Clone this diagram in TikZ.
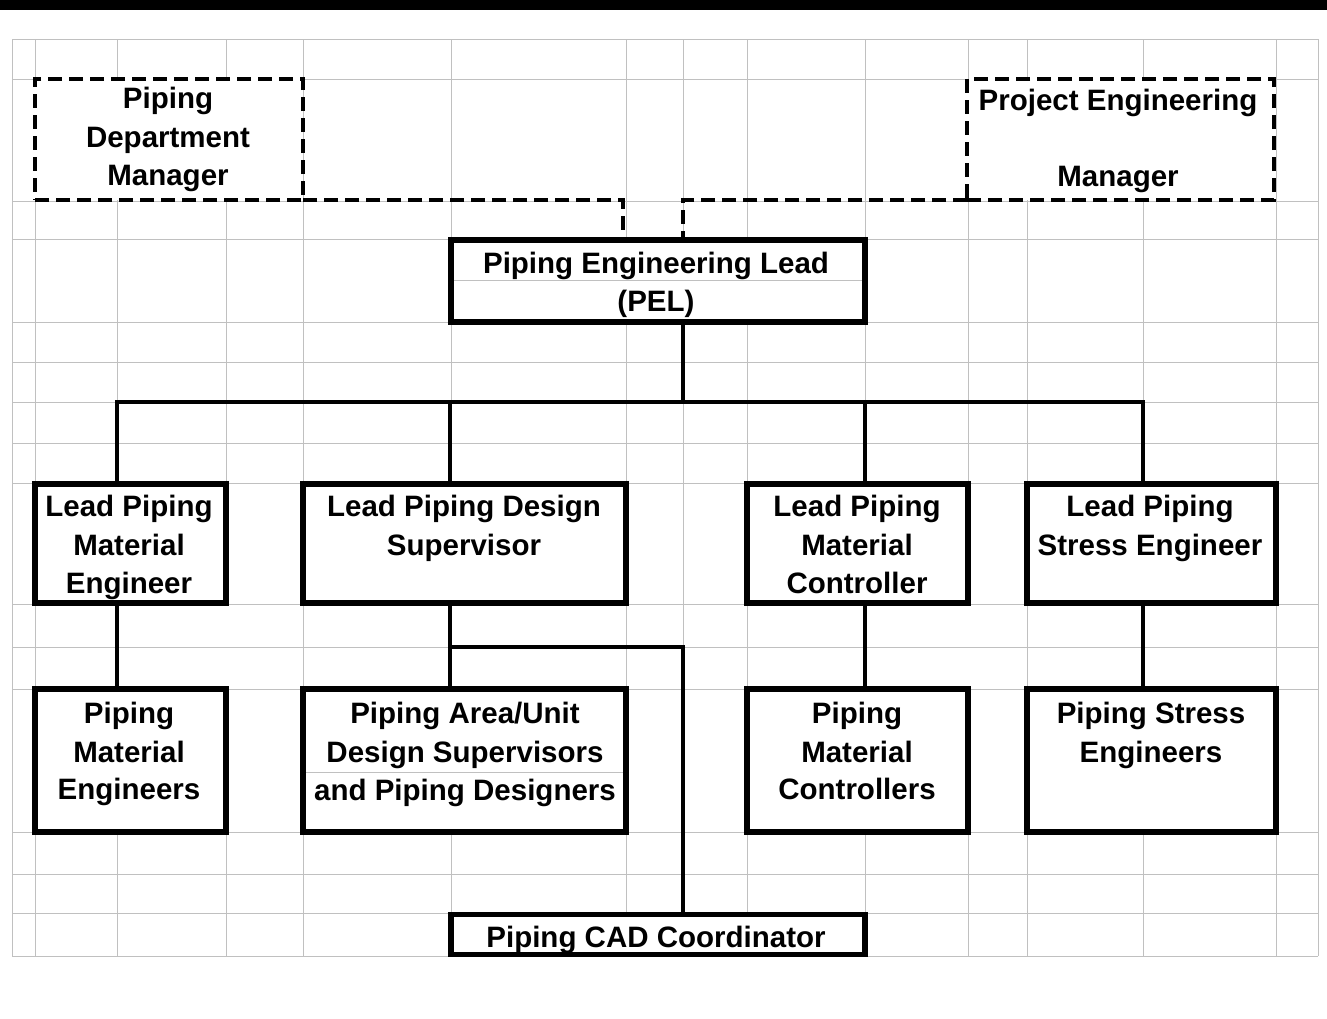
\documentclass[tikz,border=0pt]{standalone}
\usepackage{fontspec}
\setmainfont{Liberation Sans}
\definecolor{gridc}{RGB}{192,192,192}
\tikzset{
  gridline/.style={draw=gridc, line width=1pt},
  orgbox/.style={rectangle, draw=black, fill=white, line width=5.5pt, inner sep=0pt, outer sep=0pt},
  mgrbox/.style={rectangle, draw=black, fill=white, line width=3.5pt, dash pattern=on 14pt off 7pt, inner sep=0pt, outer sep=0pt},
  conn/.style={draw=black, line width=4.5pt},
  dconn/.style={draw=black, line width=3.5pt, dash pattern=on 14pt off 7pt},
  txt/.style={inner sep=0pt, anchor=base, text=black, font=\fontsize{29.5}{36}\selectfont\bfseries},
}
\begin{document}
\begin{tikzpicture}[x=1pt,y=-1pt]
\useasboundingbox (0,0) rectangle (1327,1018);
\fill[white] (0,0) rectangle (1327,1018);
\fill[black] (0,0) rectangle (1327,10);
% spreadsheet grid
\foreach \gx in {12,35,117,226,303,451,626,683,747,865,968,1027,1143,1276,1318}
  \draw[gridline] (\gx,39) -- (\gx,956);
\fill[white] (225,606) rectangle (227.5,687);
\fill[white] (967,606) rectangle (969.5,687);
\foreach \gy in {39,79,201,239,322,362,402,443,483,604,647,689,832,874,913,956}
  \draw[gridline] (12,\gy) -- (1318,\gy);
% coordinates for connector columns and rows
\coordinate (xa) at (117,0);
\coordinate (xb) at (450,0);
\coordinate (xc) at (683,0);
\coordinate (xd) at (865,0);
\coordinate (xe) at (1143,0);
\coordinate (xf) at (623,0);
\coordinate (bus) at (0,402);
\coordinate (jrow) at (0,647);
% manager boxes (dashed)
\node[mgrbox, minimum width=268pt, minimum height=121pt] (pdm) at (169,139.5) {};
\node[mgrbox, minimum width=307pt, minimum height=121pt] (pem) at (1120.5,139.5) {};
% PEL
\node[orgbox, minimum width=414pt, minimum height=82pt] (pel) at (658,281) {};
% leads
\node[orgbox, minimum width=191pt, minimum height=119pt] (lpme) at (130.5,543.5) {};
\node[orgbox, minimum width=323pt, minimum height=119pt] (lpds) at (464.5,543.5) {};
\node[orgbox, minimum width=221pt, minimum height=119pt] (lpmc) at (857.5,543.5) {};
\node[orgbox, minimum width=249pt, minimum height=119pt] (lpse) at (1151.5,543.5) {};
% teams
\node[orgbox, minimum width=191pt, minimum height=143pt] (pme) at (130.5,760.5) {};
\node[orgbox, minimum width=323pt, minimum height=143pt] (pad) at (464.5,760.5) {};
\node[orgbox, minimum width=221pt, minimum height=143pt] (pmc) at (857.5,760.5) {};
\node[orgbox, minimum width=249pt, minimum height=143pt] (pse) at (1151.5,760.5) {};
% CAD
\node[orgbox, minimum width=414pt, minimum height=40pt] (cad) at (658,934.5) {};
% grid lines that show inside two boxes
\draw[gridline] (454,280) -- (862,280);
\draw[gridline] (306,772) -- (623,772);
% dashed reporting lines
\draw[dconn] (pdm.south east) -| (pel.north -| xf);
\draw[dconn] (pem.south west) -| (pel.north -| xc);
% solid connectors
\draw[conn] (pel.south -| xc) -- (xc |- bus);
\draw[conn] (xa |- lpme.north) |- (xe |- bus) -- (xe |- lpse.north);
\draw[conn] (xb |- bus) -- (xb |- lpds.north);
\draw[conn] (xd |- bus) -- (xd |- lpmc.north);
\draw[conn] (xa |- lpme.south) -- (xa |- pme.north);
\draw[conn] (xb |- lpds.south) -- (xb |- pad.north);
\draw[conn] (xd |- lpmc.south) -- (xd |- pmc.north);
\draw[conn] (xe |- lpse.south) -- (xe |- pse.north);
\draw[conn] (xb |- jrow) -| (cad.north -| xc);
% texts
\node[txt] (t1) at (168,108) {Piping};
\node[txt] (t2) at (168,147) {Department};
\node[txt] (t3) at (168,185) {Manager};
\node[txt] (t4) at (1118,110) {Project Engineering};
\node[txt] (t5) at (1118,186) {Manager};
\node[txt] (t6) at (656,273) {Piping Engineering Lead};
\node[txt] (t7) at (656,311) {(PEL)};
\node[txt] (t8) at (129,516) {Lead Piping};
\node[txt] (t9) at (129,555) {Material};
\node[txt] (t10) at (129,593) {Engineer};
\node[txt] (t11) at (464,516) {Lead Piping Design};
\node[txt] (t12) at (464,555) {Supervisor};
\node[txt] (t13) at (857,516) {Lead Piping};
\node[txt] (t14) at (857,555) {Material};
\node[txt] (t15) at (857,593) {Controller};
\node[txt] (t16) at (1150,516) {Lead Piping};
\node[txt] (t17) at (1150,555) {Stress Engineer};
\node[txt] (t18) at (129,723) {Piping};
\node[txt] (t19) at (129,762) {Material};
\node[txt] (t20) at (129,799) {Engineers};
\node[txt] (t21) at (465,723) {Piping Area/Unit};
\node[txt] (t22) at (465,762) {Design Supervisors};
\node[txt] (t23) at (465,800) {and Piping Designers};
\node[txt] (t24) at (857,723) {Piping};
\node[txt] (t25) at (857,762) {Material};
\node[txt] (t26) at (857,799) {Controllers};
\node[txt] (t27) at (1151,723) {Piping Stress};
\node[txt] (t28) at (1151,762) {Engineers};
\node[txt] (t29) at (656,947) {Piping CAD Coordinator};
\end{tikzpicture}
\end{document}
